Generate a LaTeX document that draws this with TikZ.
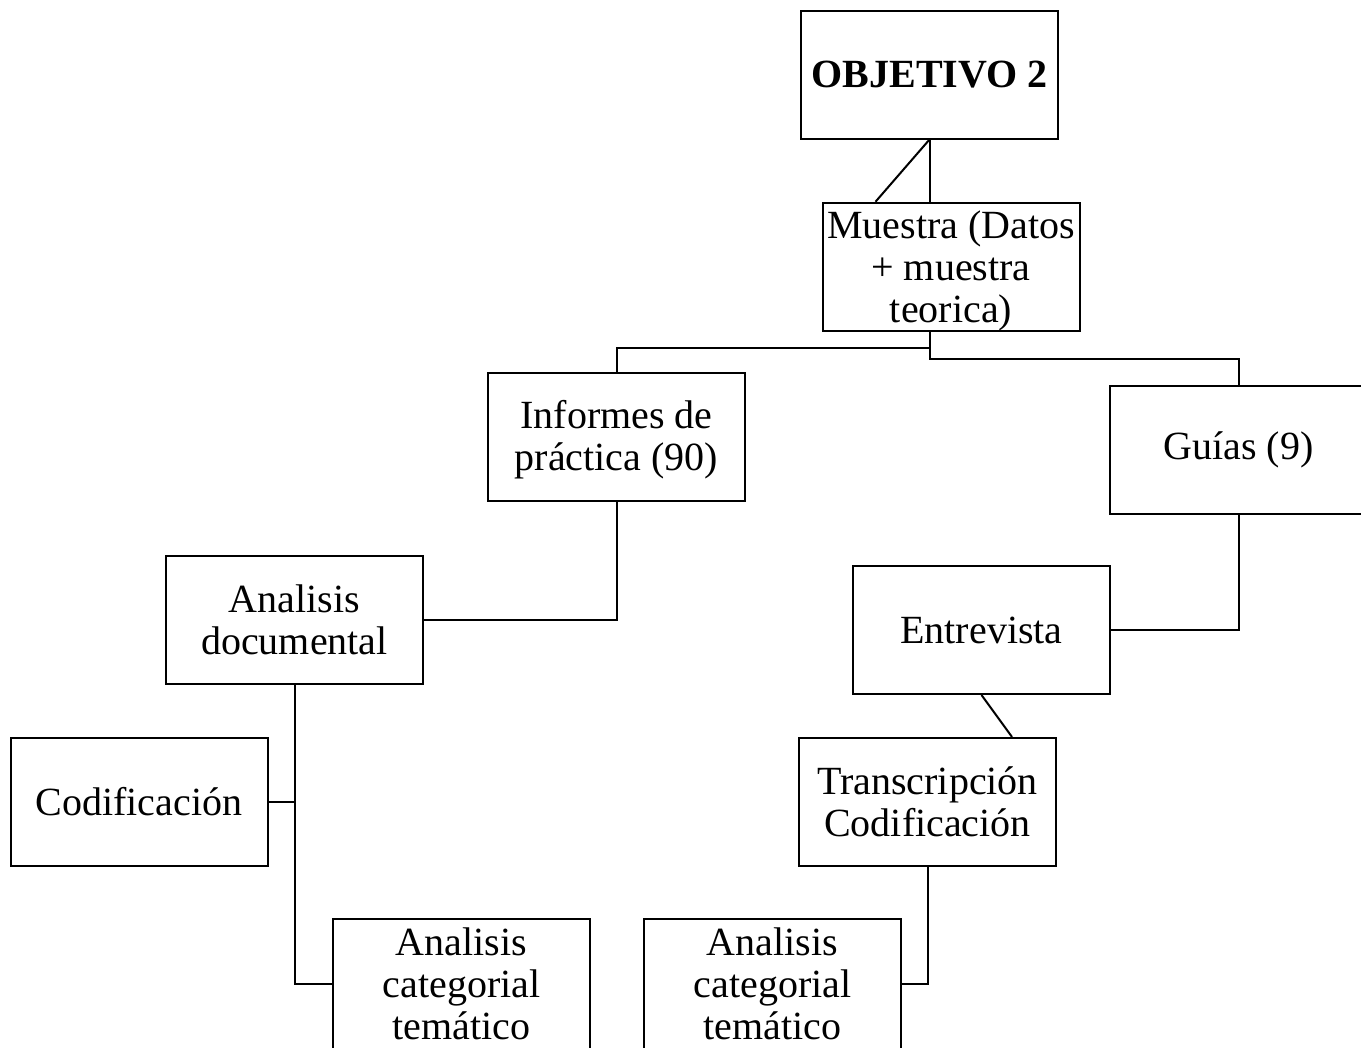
\documentclass[tikz,border=0pt]{standalone}
\usepackage{fontspec}
\setmainfont{Liberation Serif}
\begin{document}
\begin{tikzpicture}[x=0.75pt,y=-0.75pt,
  box/.style={draw=black,line width=1.5pt,fill=white,minimum width=192.75pt,minimum height=96pt,inner sep=0pt,align=center,font=\fontsize{30}{31.5}\selectfont},
  conn/.style={draw=black,line width=1.5pt}]
\useasboundingbox (0,0) rectangle (1361,1047);
\clip (0,0) rectangle (1361,1047);
\node[box,font=\fontsize{30}{31.5}\selectfont\bfseries] (obj) at (929.5,74.5) {OBJETIVO 2};
\node[box] (mue) at (951,267) {\rule{0pt}{27pt}Muestra (Datos\\+ muestra\\teorica)};
\node[box] (inf) at (616.5,437) {\rule{0pt}{25pt}Informes de\\práctica (90)};
\node[box] (gui) at (1238.5,449.5) {Guías (9)};
\node[box] (doc) at (294.5,619.5) {Analisis\\documental};
\node[box] (ent) at (981.5,630) {Entrevista};
\node[box] (tra) at (927.5,802) {Transcripción\\Codificación};
\node[box] (cod) at (139,802) {Codificación};
\node[box,minimum height=97.5pt] (ac1) at (461.5,984) {Analisis\\categorial\\temático};
\node[box,minimum height=97.5pt] (ac2) at (772.5,984) {Analisis\\categorial\\temático};
\coordinate (diag) at ([xshift=40.5pt]mue.north west);
\coordinate (msplit) at (obj.south |- mue.south);
\coordinate (tdiag) at ([xshift=63.4pt]tra.north);
\draw[conn] (obj.south) -- (obj.south |- mue.north);
\draw[conn] (obj.south) -- (diag);
\draw[conn] (msplit) -- ++(0,16) -| (inf.north);
\draw[conn] (msplit) -- ++(0,27) -| (gui.north);
\draw[conn] (inf.south) |- (doc.east);
\draw[conn] (gui.south) |- (ent.east);
\draw[conn] (ent.south) -- (tdiag);
\draw[conn] (doc.south) |- (ac1.west);
\draw[conn] (cod.east) -- (doc.south |- cod.east);
\draw[conn] (tra.south) |- (ac2.east);
\end{tikzpicture}
\end{document}
